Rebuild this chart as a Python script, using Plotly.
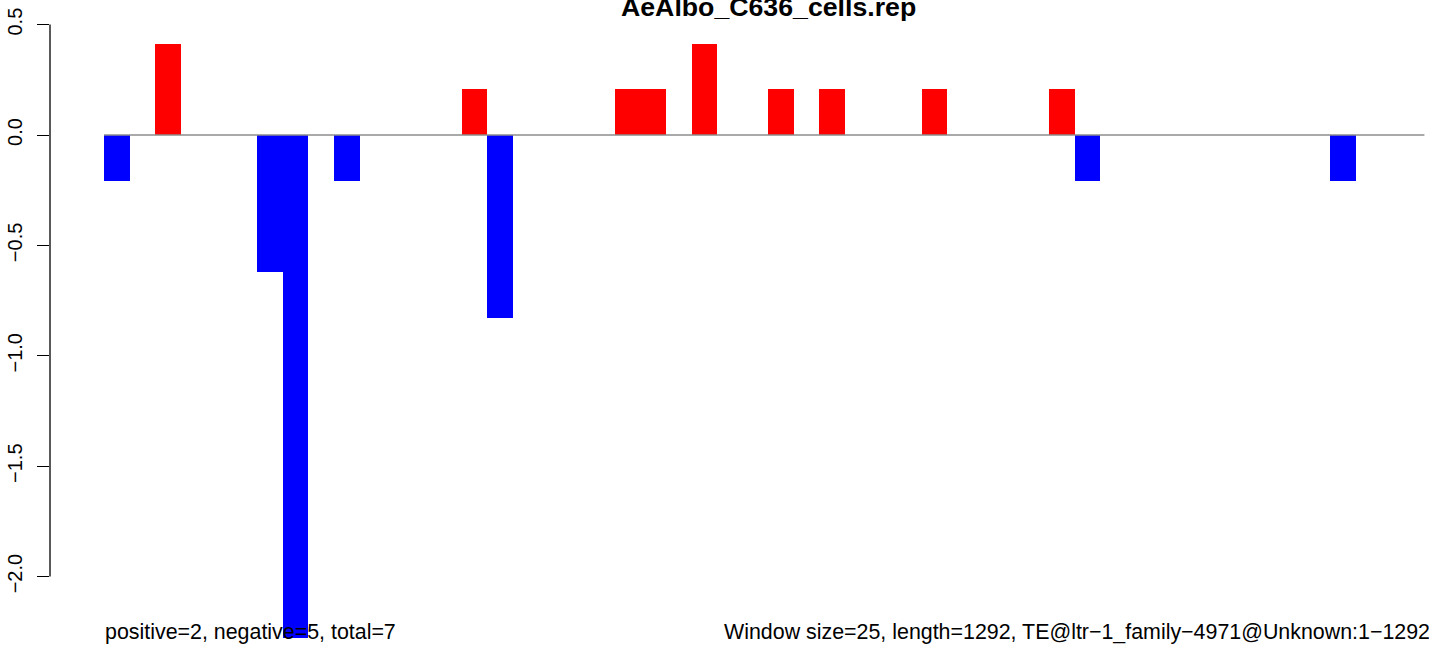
import plotly.graph_objects as go

# Data
window_index = [0, 2, 6, 7, 9, 14, 15, 20, 21, 23, 26, 28, 32, 37, 38, 48]
values = [-0.207, 0.414, -0.621, -2.277, -0.207, 0.207, -0.828, 0.207, 0.207,
          0.414, 0.207, 0.207, 0.207, 0.207, -0.207, -0.207]
y_ticks = [-2.0, -1.5, -1.0, -0.5, 0.0, 0.5]
title_text = "AeAlbo_C636_cells.rep"
left_note = "positive=2, negative=5, total=7"
right_note = "Window size=25, length=1292, TE@ltr\u22121_family\u22124971@Unknown:1\u22121292"
n_windows = 1292 / 25

W, H = 1429, 645
L = 50
FONT = "Liberation Sans, Arial, sans-serif"

colors = ["#FF0000" if v > 0 else "#0000FF" for v in values]

fig = go.Figure()
fig.add_trace(go.Bar(
    x=[i + 0.5 for i in window_index], y=values, width=1.0,
    marker=dict(color=colors, line=dict(width=0)),
    showlegend=False, hoverinfo="skip",
))

px_per_bin = 25.55
x0_px = 104
xr = [(L - x0_px) / px_per_bin, (W - x0_px) / px_per_bin]
ppu = 220.8
zero_px = 135
yr = [-(H - zero_px) / ppu, zero_px / ppu]

def px_to_paper_x(px):
    return (px - L) / (W - L)

def px_to_paper_y(py):
    return 1 - py / H

fig.update_layout(
    width=W, height=H,
    margin=dict(l=L, r=0, t=0, b=0),
    paper_bgcolor="white", plot_bgcolor="white",
    font=dict(family=FONT, color="black", size=20),
    bargap=0,
    xaxis=dict(range=xr, visible=False, fixedrange=True),
    yaxis=dict(range=yr, showgrid=False, zeroline=False, showline=False,
               tickvals=y_ticks, tickformat=".1f", ticks="outside",
               ticklen=12, tickwidth=1.3, tickcolor="black",
               tickangle=-90, tickfont=dict(size=20, family=FONT),
               ticklabelstandoff=7, automargin=False, fixedrange=True),
    shapes=[
        dict(type="line", xref="paper", yref="y", x0=0, x1=0,
             y0=y_ticks[0], y1=y_ticks[-1], line=dict(color="black", width=1.3)),
        dict(type="line", xref="x", yref="y", x0=0, x1=n_windows,
             y0=0, y1=0, line=dict(color="#8c8c8c", width=1.5), layer="above"),
    ],
    annotations=[
        dict(text="<b>" + title_text + "</b>", xref="paper", yref="paper",
             x=px_to_paper_x(768), y=px_to_paper_y(7.0), xanchor="center",
             yanchor="middle", showarrow=False,
             font=dict(size=26.7, family=FONT, color="black")),
        dict(text=left_note, xref="paper", yref="paper",
             x=px_to_paper_x(103), y=px_to_paper_y(631.6), xanchor="left",
             yanchor="middle", showarrow=False,
             font=dict(size=21.4, family=FONT, color="black")),
        dict(text=right_note, xref="paper", yref="paper",
             x=px_to_paper_x(722), y=px_to_paper_y(631.6), xanchor="left",
             yanchor="middle", showarrow=False,
             font=dict(size=21.4, family=FONT, color="black")),
    ],
)

fig.write_html(
    "out.html",
    config={"displayModeBar": False},
    post_script="document.body.style.margin='0';document.body.style.overflow='hidden';",
)
